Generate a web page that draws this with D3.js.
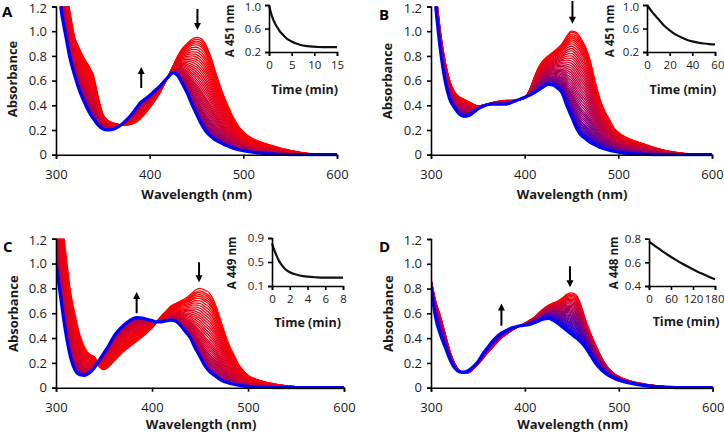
<!DOCTYPE html>
<html><head><meta charset="utf-8">
<script src="https://cdn.jsdelivr.net/npm/d3@7"></script>
<style>
body{margin:0;background:#fff}
svg{display:block}
text{font-family:"Open Sans",sans-serif}
</style>
</head><body>
<svg id="c" width="724" height="434"></svg>
<script>
// ---------- DATA ----------
const wavelengths = [300,305,310,315,320,325,330,335,340,345,350,355,360,365,370,375,380,385,390,395,400,405,410,415,420,425,430,435,440,445,450,455,460,465,470,475,480,485,490,495,500,510,520,530,540,550,560,570,580,590,600];

// Panel A: first (red) and last (blue) spectra
const redA  = [1.9,1.65,1.4,1.15,0.95,0.86,0.78,0.72,0.64,0.47,0.33,0.28,0.26,0.25,0.24,0.24,0.245,0.26,0.29,0.33,0.38,0.43,0.49,0.56,0.64,0.72,0.8,0.86,0.9,0.935,0.95,0.94,0.89,0.8,0.68,0.56,0.46,0.37,0.29,0.23,0.185,0.13,0.1,0.075,0.053,0.035,0.02,0.009,0.003,0,0];
const blueA = [1.6,1.2,0.98,0.78,0.64,0.52,0.43,0.35,0.29,0.24,0.21,0.2,0.205,0.22,0.245,0.28,0.32,0.37,0.42,0.45,0.48,0.515,0.55,0.59,0.63,0.665,0.64,0.575,0.5,0.41,0.33,0.25,0.19,0.15,0.12,0.1,0.08,0.065,0.05,0.04,0.032,0.02,0.012,0.006,0.003,0.001,0,0,0,0,0];
const peaksA = [0.95,0.935,0.92,0.905,0.89,0.87,0.85,0.83,0.81,0.79,0.77,0.75,0.73,0.71,0.69,0.67,0.65,0.63,0.61,0.59,0.57,0.555,0.54,0.525,0.51,0.495,0.48,0.465,0.45,0.44,0.43,0.42,0.41,0.40,0.39,0.38,0.372,0.365,0.36,0.355,0.35,0.346,0.343,0.34,0.338,0.336,0.334,0.332,0.33];
const insetTimeA = [0,0.25,0.5,0.75,1,1.5,2,2.5,3,3.5,4,5,6,7,8,9,10,11,12,13,14,15];
const insetValA  = [1.0,0.92,0.85,0.79,0.74,0.66,0.6,0.54,0.5,0.46,0.425,0.38,0.345,0.32,0.305,0.295,0.29,0.285,0.283,0.282,0.282,0.282];

// Panel B
const redB  = [1.8,1.35,1.0,0.76,0.6,0.51,0.47,0.45,0.43,0.41,0.395,0.4,0.41,0.42,0.43,0.435,0.44,0.44,0.44,0.445,0.46,0.52,0.62,0.71,0.765,0.8,0.83,0.86,0.9,0.96,1.0,0.99,0.94,0.87,0.76,0.6,0.46,0.36,0.29,0.22,0.18,0.135,0.105,0.08,0.055,0.035,0.02,0.01,0.003,0,0];
const blueB = [1.6,1.2,0.85,0.6,0.45,0.38,0.33,0.31,0.315,0.34,0.37,0.39,0.405,0.41,0.41,0.41,0.41,0.42,0.435,0.45,0.465,0.48,0.5,0.525,0.55,0.57,0.565,0.54,0.5,0.4,0.31,0.22,0.16,0.13,0.1,0.08,0.06,0.048,0.037,0.028,0.02,0.01,0.005,0.002,0,0,0,0,0,0,0];
const peaksB = [1.0,0.99,0.975,0.96,0.945,0.93,0.915,0.9,0.88,0.86,0.84,0.82,0.8,0.78,0.76,0.74,0.72,0.70,0.68,0.66,0.64,0.62,0.60,0.58,0.56,0.54,0.52,0.50,0.485,0.47,0.455,0.44,0.425,0.41,0.40,0.39,0.38,0.37,0.36,0.35,0.34,0.335,0.33,0.325,0.32,0.317,0.315,0.312,0.31];
const insetTimeB = [0,5,10,15,20,25,30,35,40,45,50,55,60];
const insetValB  = [1.0,0.87,0.76,0.65,0.57,0.5,0.45,0.41,0.38,0.36,0.345,0.335,0.33];

// Panel C
const redC  = [1.9,1.45,1.1,0.78,0.58,0.42,0.32,0.27,0.25,0.17,0.145,0.17,0.21,0.25,0.29,0.32,0.35,0.38,0.41,0.445,0.48,0.53,0.58,0.62,0.66,0.68,0.7,0.72,0.75,0.785,0.8,0.785,0.76,0.69,0.58,0.46,0.35,0.27,0.19,0.14,0.1,0.065,0.042,0.027,0.016,0.009,0.004,0.001,0,0,0];
const blueC = [1.0,0.72,0.45,0.25,0.14,0.105,0.1,0.12,0.16,0.22,0.28,0.34,0.41,0.46,0.5,0.53,0.555,0.565,0.56,0.55,0.54,0.53,0.53,0.54,0.545,0.535,0.5,0.45,0.4,0.32,0.25,0.18,0.13,0.1,0.07,0.05,0.038,0.028,0.02,0.015,0.01,0.005,0.002,0,0,0,0,0,0,0,0];
const peaksC = [0.8,0.78,0.765,0.75,0.735,0.72,0.70,0.68,0.66,0.64,0.62,0.60,0.58,0.56,0.54,0.52,0.50,0.48,0.46,0.445,0.43,0.415,0.40,0.385,0.37,0.36,0.35,0.34,0.33,0.32,0.31,0.30,0.29,0.28,0.272,0.266,0.261,0.257,0.254,0.252,0.25];
const insetTimeC = [0,0.25,0.5,0.75,1,1.25,1.5,2,2.5,3,3.5,4,5,6,7,8];
const insetValC  = [0.81,0.7,0.61,0.53,0.47,0.42,0.38,0.33,0.3,0.28,0.265,0.255,0.245,0.24,0.24,0.24];

// Panel D
const redD  = [0.88,0.7,0.58,0.44,0.3,0.2,0.14,0.115,0.12,0.15,0.19,0.23,0.28,0.32,0.36,0.4,0.43,0.455,0.48,0.5,0.52,0.545,0.57,0.605,0.64,0.665,0.685,0.7,0.725,0.755,0.765,0.745,0.66,0.54,0.44,0.35,0.27,0.2,0.15,0.115,0.09,0.06,0.04,0.026,0.016,0.009,0.004,0.001,0,0,0];
const blueD = [0.82,0.56,0.43,0.33,0.23,0.16,0.13,0.125,0.14,0.17,0.21,0.27,0.32,0.37,0.41,0.44,0.46,0.48,0.49,0.5,0.505,0.51,0.525,0.54,0.555,0.56,0.545,0.52,0.49,0.46,0.43,0.4,0.365,0.32,0.26,0.2,0.155,0.12,0.095,0.075,0.06,0.04,0.025,0.015,0.008,0.004,0.001,0,0,0,0];
const peaksD = [0.765,0.755,0.745,0.735,0.725,0.715,0.705,0.695,0.685,0.675,0.665,0.655,0.645,0.635,0.625,0.615,0.605,0.595,0.585,0.575,0.565,0.555,0.545,0.535,0.525,0.515,0.505,0.495,0.485,0.475,0.465,0.455,0.445,0.435,0.43];
const insetTimeD = [0,18,36,54,72,90,108,126,144,162,180];
const insetValD  = [0.775,0.735,0.695,0.658,0.623,0.59,0.56,0.532,0.505,0.48,0.457];

// Tick labels
const mainYTicks = [0,0.2,0.4,0.6,0.8,1.0,1.2];
const mainXTicks = [300,400,500,600];
const insetXTicksA = [0,5,10,15], insetYTicksA = [0.2,0.6,1.0];
const insetXTicksB = [0,20,40,60], insetYTicksB = [0.2,0.6,1.0];
const insetXTicksC = [0,2,4,6,8], insetYTicksC = [0.1,0.5,0.9];
const insetXTicksD = [0,60,120,180], insetYTicksD = [0.4,0.6,0.8];

// Arrows [wavelength, from absorbance, to absorbance]
const arrowsA = [[451,1.18,1.01],[391,0.54,0.71]];
const arrowsB = [[451,1.25,1.06]];
const arrowsC = [[384,0.6,0.77],[449,1.01,0.85]];
const arrowsD = [[375,0.5,0.68],[448,0.98,0.81]];

// ---------- LAYOUT ----------
const panels = [
 {id:"A", red:redA, blue:blueA, peaks:peaksA, it:insetTimeA, iv:insetValA, ixt:insetXTicksA, iyt:insetYTicksA, arrows:arrowsA, ilabel:"A 451 nm",
  plot:{x0:56,x1:337,yb:154.7,yt:6.5}, inset:{x0:269,x1:337,yb:52,yt:5},
  letter:[2,17], yTitle:[14,79], xTitle:[196.7,195.5], iyTitle:[231,31], ixTitle:[304.7,91]},
 {id:"B", red:redB, blue:blueB, peaks:peaksB, it:insetTimeB, iv:insetValB, ixt:insetXTicksB, iyt:insetYTicksB, arrows:arrowsB, ilabel:"A 451 nm",
  plot:{x0:431,x1:712,yb:154.7,yt:6.5}, inset:{x0:647,x1:715,yb:52,yt:5},
  letter:[379,20], yTitle:[389,81], xTitle:[572,195.5], iyTitle:[611,31], ixTitle:[682.8,91]},
 {id:"C", red:redC, blue:blueC, peaks:peaksC, it:insetTimeC, iv:insetValC, ixt:insetXTicksC, iyt:insetYTicksC, arrows:arrowsC, ilabel:"A 449 nm",
  plot:{x0:56,x1:344,yb:387.7,yt:238.7}, inset:{x0:272,x1:343,yb:286,yt:238},
  letter:[3,252], yTitle:[15,313.7], xTitle:[201,426], iyTitle:[233,263], ixTitle:[307.5,324]},
 {id:"D", red:redD, blue:blueD, peaks:peaksD, it:insetTimeD, iv:insetValD, ixt:insetXTicksD, iyt:insetYTicksD, arrows:arrowsD, ilabel:"A 448 nm",
  plot:{x0:431,x1:712.7,yb:387.7,yt:239}, inset:{x0:649,x1:715,yb:286,yt:238.7},
  letter:[379,252], yTitle:[390,313.7], xTitle:[572.5,426], iyTitle:[615,263], ixTitle:[686,323]}
];

const svg = d3.select("#c");
const defs = svg.append("defs");
const colorAt = d3.interpolateRgb("#ff0000", "#0000ff");

function styleAxis(fs){
  return g => {
    g.select(".domain").attr("stroke","#000").attr("stroke-width",1.6);
    g.selectAll(".tick line").attr("stroke","#000").attr("stroke-width",1.6);
    g.selectAll(".tick text").attr("fill","#1a1a1a").style("font-size",fs+"px");
  };
}

panels.forEach(p => {
  const P = p.plot;
  const x = d3.scaleLinear().domain([300,600]).range([P.x0,P.x1]);
  const y = d3.scaleLinear().domain([0,1.2]).range([P.yb,P.yt]);

  defs.append("clipPath").attr("id","clip"+p.id)
    .append("rect").attr("x",P.x0).attr("y",P.yt).attr("width",P.x1-P.x0+2).attr("height",P.yb-P.yt+2);

  // monitoring wavelength index: maximum of first spectrum in the visible band
  let iMon = 0, best = -1;
  wavelengths.forEach((w,j)=>{ if (w>=420 && w<=480 && p.red[j]>best){best=p.red[j]; iMon=j;} });
  const rM = p.red[iMon], bM = p.blue[iMon];

  // time at which the kinetic trace (inset) reaches a given remaining fraction -> colour
  const v0 = p.iv[0], vE = p.iv[p.iv.length-1], T = p.it[p.it.length-1];
  const norm = p.iv.map(v => (v - vE)/(v0 - vE));
  function timeOf(f){
    if (f >= 1) return 0;
    for (let k=1;k<norm.length;k++){
      if (norm[k] <= f){
        const a = norm[k-1], b = norm[k];
        const u = a===b ? 1 : (a - f)/(a - b);
        return p.it[k-1] + u*(p.it[k]-p.it[k-1]);
      }
    }
    return T;
  }

  const line = d3.line().x(d=>x(d[0])).y(d=>y(d[1])).curve(d3.curveMonotoneX);
  const g = svg.append("g").attr("clip-path","url(#clip"+p.id+")");
  const n = p.peaks.length;
  p.peaks.forEach((pk,i) => {
    if (i === n-1) return;
    const f = (pk - bM)/(rM - bM);
    const spec = wavelengths.map((w,j)=>[w, p.blue[j] + f*(p.red[j]-p.blue[j])]);
    g.append("path").attr("d",line(spec)).attr("fill","none")
      .attr("stroke",colorAt(Math.min(1,timeOf(f)/T))).attr("stroke-width",1.3);
  });
  g.append("path").attr("d",line(wavelengths.map((w,j)=>[w,p.blue[j]])))
    .attr("fill","none").attr("stroke","#0000ff").attr("stroke-width",3.2);

  // axes
  svg.append("g").attr("transform",`translate(0,${P.yb})`)
    .call(d3.axisBottom(x).tickValues(mainXTicks).tickSize(4).tickPadding(11).tickFormat(d3.format("d")))
    .call(styleAxis(13));
  const yax = svg.append("g").attr("transform",`translate(${P.x0},0)`)
    .call(d3.axisLeft(y).tickValues(mainYTicks).tickSize(4).tickPadding(5).tickFormat(d=>d===0?"0":d3.format(".1f")(d)))
    .call(styleAxis(13));
  yax.selectAll(".tick text").filter(d=>d===1.2).attr("dy","0.45em");

  // titles
  svg.append("text").attr("x",p.xTitle[0]).attr("y",p.xTitle[1]).attr("text-anchor","middle")
    .attr("dominant-baseline","middle").style("font-size","13px").style("font-weight","bold").attr("fill","#1a1a1a").text("Wavelength (nm)");
  svg.append("text").attr("transform",`translate(${p.yTitle[0]},${p.yTitle[1]}) rotate(-90)`).attr("text-anchor","middle")
    .attr("dominant-baseline","middle").style("font-size","13px").style("font-weight","bold").attr("fill","#1a1a1a").text("Absorbance");
  svg.append("text").attr("x",p.letter[0]).attr("y",p.letter[1]).style("font-size","15px").style("font-weight","bold").attr("fill","#000").text(p.id);

  // arrows
  p.arrows.forEach(a => {
    const ax = x(a[0]), y1 = Math.max(1, y(a[1])), y2 = y(a[2]);
    const dir = y2 > y1 ? 1 : -1;
    svg.append("line").attr("x1",ax).attr("x2",ax).attr("y1",y1).attr("y2",y2 - dir*5)
      .attr("stroke","#000").attr("stroke-width",2);
    svg.append("path").attr("d",`M${ax-3.5},${y2-dir*7}L${ax+3.5},${y2-dir*7}L${ax},${y2}Z`).attr("fill","#000");
  });

  // inset
  const I = p.inset;
  const xi = d3.scaleLinear().domain([p.ixt[0], p.ixt[p.ixt.length-1]]).range([I.x0,I.x1]);
  const yi = d3.scaleLinear().domain([p.iyt[0], p.iyt[p.iyt.length-1]]).range([I.yb,I.yt]);
  svg.append("path").attr("d", d3.line().x((d,i)=>xi(p.it[i])).y(d=>yi(d)).curve(d3.curveMonotoneX)(p.iv))
    .attr("fill","none").attr("stroke","#111").attr("stroke-width",2.2);
  const ixax = svg.append("g").attr("transform",`translate(0,${I.yb})`)
    .call(d3.axisBottom(xi).tickValues(p.ixt).tickSize(4).tickPadding(5).tickFormat(d3.format("d")))
    .call(styleAxis(11.5));
  // keep the right-most inset tick label inside the page
  ixax.selectAll(".tick text").filter((d,k)=>k===p.ixt.length-1 && xi(d)+12>724).attr("text-anchor","end").attr("dx","9");
  const iyax = svg.append("g").attr("transform",`translate(${I.x0},0)`)
    .call(d3.axisLeft(yi).tickValues(p.iyt).tickSize(4).tickPadding(4).tickFormat(d3.format(".1f")))
    .call(styleAxis(11.5));
  if (I.yt < 10) iyax.selectAll(".tick text").filter((d,k)=>k===p.iyt.length-1).attr("dy","0.45em");
  svg.append("text").attr("transform",`translate(${p.iyTitle[0]},${p.iyTitle[1]}) rotate(-90)`).attr("text-anchor","middle")
    .attr("dominant-baseline","middle").style("font-size","11.5px").style("font-weight","bold").attr("fill","#1a1a1a").text(p.ilabel);
  svg.append("text").attr("x",p.ixTitle[0]).attr("y",p.ixTitle[1]).attr("text-anchor","middle")
    .attr("dominant-baseline","middle").style("font-size","12.5px").style("font-weight","bold").attr("fill","#1a1a1a").text("Time (min)");
});
</script>
</body></html>
